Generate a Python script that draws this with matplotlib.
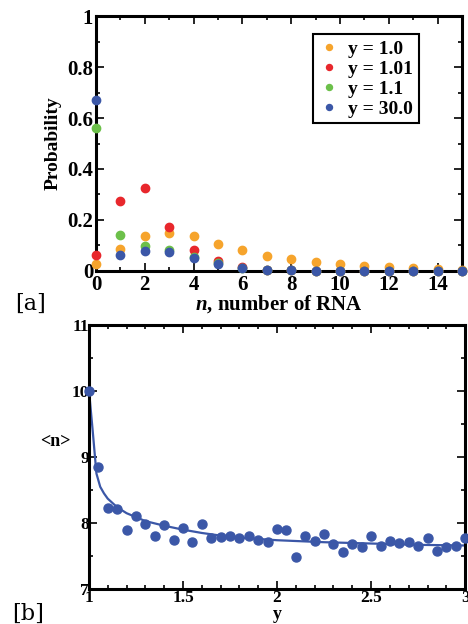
#!/usr/bin/env python3
"""Two-panel figure: RNA number distributions and mean <n> versus y."""

import numpy as np
import matplotlib.pyplot as plt
from matplotlib.ticker import MultipleLocator

plt.rcParams.update({
    "font.family": ["Liberation Serif", "DejaVu Serif"],
    "font.weight": "bold",
    "axes.labelweight": "bold",
    "mathtext.fontset": "custom",
    "mathtext.it": "Liberation Serif:italic:bold",
    "mathtext.rm": "Liberation Serif:bold",
    "mathtext.bf": "Liberation Serif:bold",
})

# ── Data ────────────────────────────────────────────────────────────────
n_rna = np.arange(16)
p_y1 = [0.025, 0.085, 0.135, 0.150, 0.135, 0.107, 0.081, 0.060,
        0.045, 0.034, 0.025, 0.020, 0.014, 0.012, 0.008, 0.003]
p_y101 = [0.063, 0.274, 0.326, 0.174, 0.081, 0.038, 0.016, 0.005,
          0.002, 0.001, 0.0, 0.0, 0.0, 0.0, 0.0, 0.0]
p_y11 = [0.560, 0.141, 0.098, 0.081, 0.055, 0.029, 0.013, 0.005,
         0.002, 0.001, 0.0, 0.0, 0.0, 0.0, 0.0, 0.0]
p_y30 = [0.670, 0.063, 0.079, 0.072, 0.051, 0.027, 0.013, 0.005,
         0.002, 0.001, 0.0, 0.0, 0.0, 0.0, 0.0, 0.0]
series_labels = ["y = 1.0", "y = 1.01", "y = 1.1", "y = 30.0"]
series_colors = ["#f6a42c", "#e8272c", "#6cc04a", "#3b57a7"]

y_vals = np.round(np.arange(1.0, 3.0001, 0.05), 2)
mean_n = [10.00, 8.85, 8.23, 8.21, 7.90, 8.10, 7.99, 7.81, 7.97, 7.74,
          7.93, 7.72, 7.99, 7.78, 7.79, 7.81, 7.78, 7.81, 7.75, 7.72,
          7.91, 7.90, 7.48, 7.80, 7.73, 7.83, 7.68, 7.56, 7.69, 7.64,
          7.81, 7.66, 7.73, 7.70, 7.72, 7.66, 7.78, 7.57, 7.64, 7.66,
          7.77]
fit_y = [1.00, 1.02, 1.04, 1.06, 1.08, 1.10, 1.15, 1.20, 1.30, 1.40,
         1.50, 1.60, 1.70, 1.80, 1.90, 2.00, 2.25, 2.50, 2.75, 3.00]
fit_n = [10.02, 9.40, 8.75, 8.55, 8.45, 8.37, 8.24, 8.15, 8.03, 7.96,
         7.90, 7.85, 7.81, 7.78, 7.76, 7.74, 7.71, 7.69, 7.67, 7.66]


def style_axes(ax):
    for sp in ax.spines.values():
        sp.set_linewidth(2.2)
    ax.tick_params(which="both", direction="in", top=True, right=True,
                   width=1.2)
    ax.tick_params(which="major", length=6)
    ax.tick_params(which="minor", length=3)


fig = plt.figure(figsize=(4.68, 6.24), dpi=100)

# ── Panel a ─────────────────────────────────────────────────────────────
ax1 = fig.add_axes([0.205, 0.566, 0.782, 0.408])
for vals, lab, col in zip([p_y1, p_y101, p_y11, p_y30], series_labels,
                          series_colors):
    ax1.plot(n_rna, vals, "o", color=col, markersize=6, label=lab,
             clip_on=False, zorder=3)
ax1.set_xlim(0, 15)
ax1.set_ylim(0, 1)
ax1.xaxis.set_major_locator(MultipleLocator(2))
ax1.xaxis.set_minor_locator(MultipleLocator(1))
ax1.yaxis.set_minor_locator(MultipleLocator(0.1))
ax1.set_yticks([0, 0.2, 0.4, 0.6, 0.8, 1.0])
ax1.set_yticklabels(["0", "0.2", "0.4", "0.6", "0.8", "1"])
style_axes(ax1)
ax1.tick_params(axis="both", labelsize=15)
ax1.tick_params(axis="y", pad=2)
ax1.tick_params(axis="x", pad=3)
ax1.set_xlabel(r"$\mathit{n}$, number of RNA", fontsize=15, labelpad=-1)
ax1.set_ylabel("Probability", fontsize=14, labelpad=4)
leg = ax1.legend(loc="upper right", bbox_to_anchor=(0.883, 0.929),
                 borderaxespad=0, fontsize=14, markerscale=0.72,
                 handletextpad=0.5, labelspacing=0.12, borderpad=0.3,
                 fancybox=False, framealpha=1, edgecolor="black",
                 handlelength=1.0)
leg.get_frame().set_linewidth(1.5)
fig.text(0.032, 0.513, "[a]", fontsize=16, fontweight="normal",
         family="DejaVu Serif", va="center")

# ── Panel b ─────────────────────────────────────────────────────────────
ax2 = fig.add_axes([0.190, 0.056, 0.804, 0.423])
ax2.plot(fit_y, fit_n, "-", color="#3b57a7", linewidth=1.6, zorder=2)
ax2.plot(y_vals, mean_n, "o", color="#3b57a7", markersize=6.5,
         clip_on=False, zorder=3)
ax2.set_xlim(1, 3)
ax2.set_ylim(7, 11)
ax2.xaxis.set_minor_locator(MultipleLocator(0.1))
ax2.yaxis.set_major_locator(MultipleLocator(1))
ax2.yaxis.set_minor_locator(MultipleLocator(0.5))
ax2.set_xticks([1, 1.5, 2, 2.5, 3])
ax2.set_xticklabels(["1", "1.5", "2", "2.5", "3"])
style_axes(ax2)
ax2.tick_params(axis="both", labelsize=12.5)
ax2.tick_params(axis="y", pad=0)
ax2.tick_params(axis="x", pad=1)
ax2.set_xlabel("y", fontsize=13, labelpad=-0.5)
ax2.set_ylabel("<n>", fontsize=13, rotation=0, va="center")
ax2.yaxis.set_label_coords(-0.09, 0.56)
fig.text(0.026, 0.016, "[b]", fontsize=16, fontweight="normal",
         family="DejaVu Serif", va="center")

fig.savefig("out.png", dpi=100)
